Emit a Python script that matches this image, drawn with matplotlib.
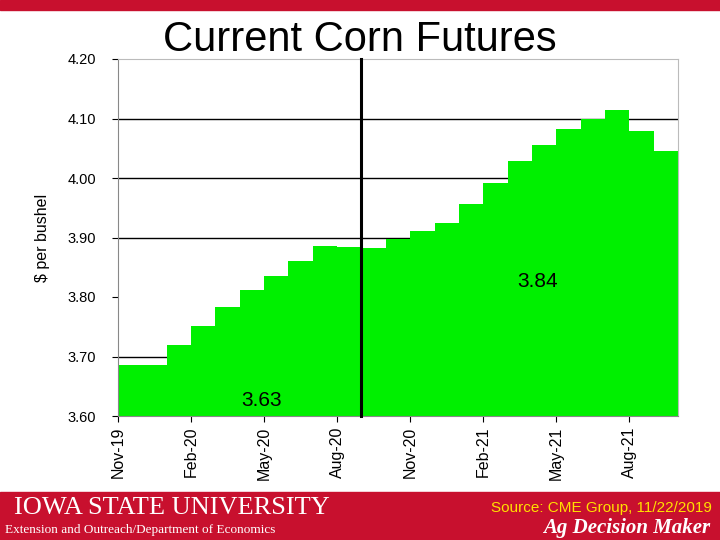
import matplotlib
matplotlib.use("Agg")
import matplotlib.pyplot as plt
from matplotlib.patches import Rectangle

months = ["Nov-19","Dec-19","Jan-20","Feb-20","Mar-20","Apr-20","May-20","Jun-20","Jul-20","Aug-20",
          "Sep-20","Oct-20","Nov-20","Dec-20","Jan-21","Feb-21","Mar-21","Apr-21","May-21","Jun-21",
          "Jul-21","Aug-21","Sep-21"]
prices = [3.686,3.686,3.719,3.751,3.784,3.811,3.836,3.861,3.886,3.884,
          3.882,3.898,3.911,3.924,3.957,3.992,4.028,4.055,4.082,4.099,
          4.114,4.079,4.046]
tick_labels = ["Nov-19","Feb-20","May-20","Aug-20","Nov-20","Feb-21","May-21","Aug-21"]
yticks = [3.60,3.70,3.80,3.90,4.00,4.10,4.20]
gridlines = [3.70,3.90,4.00,4.10]
current_month = "Sep-20"

red = "#C8102E"
fig = plt.figure(figsize=(7.2,5.4), dpi=100)
ax = fig.add_axes([118/720, 1-416/540, 560/720, 357/540])
x = list(range(len(months)))
ax.bar(x, prices, width=1.0, align="edge", color="#00F000", bottom=0, zorder=2)
for g in gridlines:
    ax.axhline(g, color="black", lw=1, zorder=1)
ax.set_xlim(0, len(months))
ax.set_ylim(3.60, 4.20)
ax.set_yticks(yticks)
ax.set_yticklabels([f"{v:.2f}" for v in yticks], fontsize=10.5, family="Liberation Sans")
ax.set_xticks([months.index(t) for t in tick_labels])
ax.set_xticklabels(tick_labels, rotation=90, fontsize=11.5, family="Liberation Sans")
ax.tick_params(axis="y", length=4, pad=12)
ax.tick_params(axis="x", length=4)
for s in ["top","right"]:
    ax.spines[s].set_color("#BBBBBB")
ax.spines["bottom"].set_color("#888888")
ax.spines["left"].set_color("#888888")
ax.axvline(months.index(current_month), color="black", lw=2.2, ymin=0, ymax=1, zorder=3, clip_on=False)
ax.set_ylabel("$ per bushel", fontsize=11.5, family="Liberation Sans", labelpad=12)
ax.text(17.25, 3.826, "3.84", fontsize=15, ha="center", va="center", family="Liberation Sans", zorder=4)
ax.text(5.9, 3.626, "3.63", fontsize=15, ha="center", va="center", family="Liberation Sans", zorder=4)

fig.text(360/720, 1-40/540, "Current Corn Futures", fontsize=30, ha="center", va="center", family="Liberation Sans")
fig.patches.append(Rectangle((0, 1-10/540), 1, 10/540, transform=fig.transFigure, color=red, zorder=0))
fig.patches.append(Rectangle((0, 0), 1, 48/540, transform=fig.transFigure, color=red, zorder=0))
fig.text(14/720, 1-508/540, "IOWA STATE UNIVERSITY", fontsize=19, color="white", va="center", family="Liberation Serif")
fig.text(5/720, 1-530/540, "Extension and Outreach/Department of Economics", fontsize=9.5, color="white", va="center", family="Liberation Serif")
fig.text(712/720, 1-508/540, "Source: CME Group, 11/22/2019", fontsize=11, color="#FFE000", ha="right", va="center", family="Liberation Sans")
fig.text(710/720, 1-528/540, "Ag Decision Maker", fontsize=15, color="white", ha="right", va="center", family="Liberation Serif", style="italic", weight="bold")
fig.savefig("out.png", dpi=100)
